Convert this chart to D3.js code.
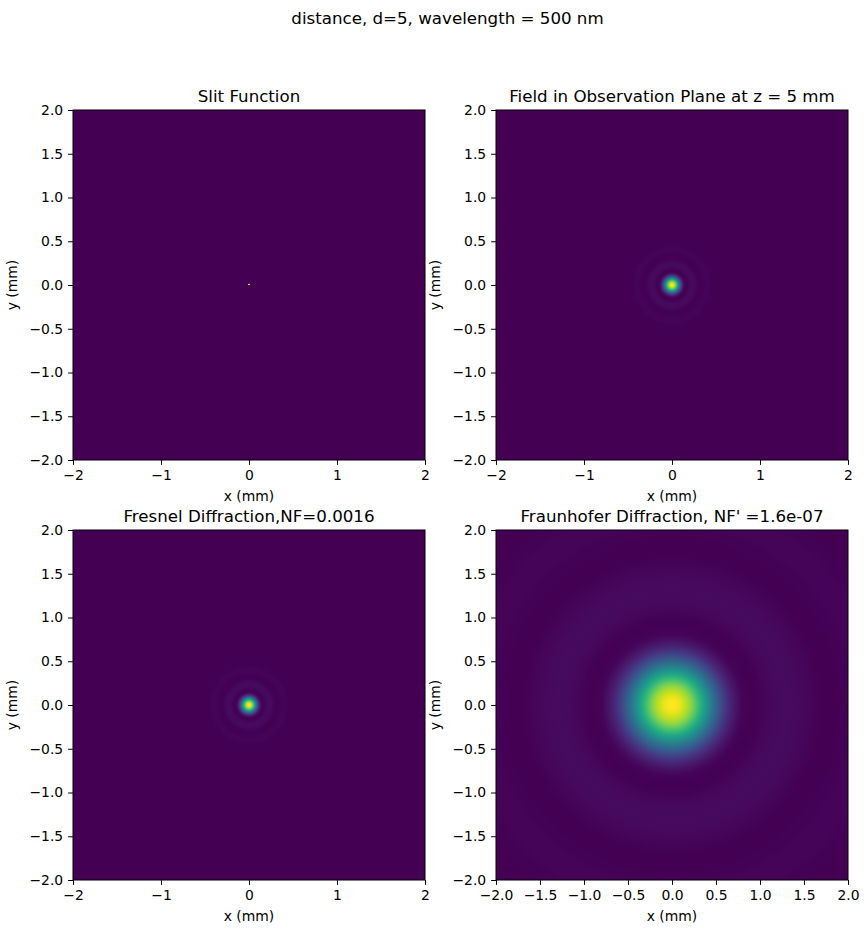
<!DOCTYPE html>
<html>
<head>
<meta charset="utf-8">
<script src="https://cdn.jsdelivr.net/npm/d3@7"></script>
<style>
  body { margin: 0; background: #fff; }
  text { font-family: "DejaVu Sans", sans-serif; fill: #000; }
</style>
</head>
<body>
<div id="fig"></div>
<script>
// chart values
const suptitle = "distance, d=5, wavelength = 500 nm";
const panelTitles = [
  "Slit Function",
  "Field in Observation Plane at z = 5 mm",
  "Fresnel Diffraction,NF=0.0016",
  "Fraunhofer Diffraction, NF' =1.6e-07"
];
const intTicks = [-2, -1, 0, 1, 2];
const halfTicks = [-2, -1.5, -1, -0.5, 0, 0.5, 1, 1.5, 2];

// the slit: one tiny bright cell at the origin (mm)
const slitX = [-0.012, 0.012];
const slitY = [0, 0.012];

// radial intensity profile of the near field spot (panels 2 and 3), mm -> normalised
const nearRadius = [0, 0.01, 0.02, 0.03, 0.04, 0.05, 0.06, 0.07, 0.08, 0.09, 0.10, 0.11, 0.12, 0.13, 0.14, 0.15,
  0.16, 0.18, 0.20, 0.22, 0.24, 0.26, 0.28, 0.30, 0.32, 0.34, 0.36, 0.38, 0.40, 0.42, 0.44, 0.46, 0.48];
const nearIntensity = [1, 0.99, 0.95, 0.89, 0.81, 0.72, 0.62, 0.51, 0.41, 0.31, 0.22, 0.15, 0.09, 0.047, 0.019, 0.005,
  0, 0.007, 0.019, 0.027, 0.027, 0.020, 0.010, 0.003, 0, 0.002, 0.006, 0.009, 0.009, 0.008, 0.004, 0.001, 0];

// radial intensity profile of the far field pattern (panel 4)
const farRadius = [0, 0.05, 0.1, 0.15, 0.2, 0.25, 0.3, 0.35, 0.4, 0.45, 0.5, 0.55, 0.6, 0.65, 0.7, 0.75, 0.8, 0.85,
  0.9, 0.95, 1.0, 1.1, 1.2, 1.3, 1.4, 1.5, 1.6, 1.7, 1.8, 1.9, 2.0, 2.1, 2.2, 2.3, 2.4, 2.5, 2.6, 2.7, 2.8, 2.9];
const farIntensity = [1, 0.99, 0.96, 0.91, 0.85, 0.77, 0.68, 0.59, 0.50, 0.41, 0.32, 0.24, 0.17, 0.11, 0.07, 0.036, 0.015, 0.004,
  0, 0.002, 0.006, 0.017, 0.026, 0.029, 0.025, 0.017, 0.008, 0.002, 0, 0.002, 0.005, 0.008, 0.010, 0.009, 0.007, 0.003, 0.001, 0, 0.001, 0.002];

const W = 868, H = 933;
const pw = 352, ph = 350;
const cols = [73, 496], rows = [110, 530];
const tickFont = "13.9px", titleFont = "16.67px";

const svg = d3.select("#fig").append("svg")
  .attr("width", W)
  .attr("height", H);
const defs = svg.append("defs");

const color = d3.scaleSequential(d3.interpolateViridis).domain([0, 1]);

svg.append("text")
  .attr("x", 447.5)
  .attr("y", 24)
  .attr("text-anchor", "middle")
  .style("font-size", titleFont)
  .text(suptitle);

const panels = [
  {col: 0, row: 0, kind: "slit", xt: intTicks, xf: d3.format("d")},
  {col: 1, row: 0, kind: "near", xt: intTicks, xf: d3.format("d")},
  {col: 0, row: 1, kind: "near", xt: intTicks, xf: d3.format("d")},
  {col: 1, row: 1, kind: "far", xt: halfTicks, xf: d3.format(".1f")}
];

panels.forEach(function (p, i) {
  const x0 = cols[p.col], y0 = rows[p.row];
  const g = svg.append("g").attr("transform", `translate(${x0}, ${y0})`);

  const x = d3.scaleLinear().domain([-2, 2]).range([0, pw]);
  const y = d3.scaleLinear().domain([-2, 2]).range([ph, 0]);

  defs.append("clipPath").attr("id", "clip" + i)
    .append("rect").attr("width", pw).attr("height", ph);

  const plot = g.append("g").attr("clip-path", `url(#clip${i})`);
  plot.append("rect")
    .attr("width", pw)
    .attr("height", ph)
    .attr("fill", color(0));

  if (p.kind === "slit") {
    plot.append("rect")
      .attr("x", x(slitX[0]))
      .attr("y", y(slitY[1]))
      .attr("width", x(slitX[1]) - x(slitX[0]))
      .attr("height", y(slitY[0]) - y(slitY[1]))
      .attr("fill", color(1));
  } else {
    const radius = p.kind === "near" ? nearRadius : farRadius;
    const value = p.kind === "near" ? nearIntensity : farIntensity;
    const rMax = d3.max(radius);
    const offset = d3.scaleLinear().domain([0, rMax]).range([0, 100]);
    const grad = defs.append("radialGradient").attr("id", "grad" + i);
    grad.selectAll("stop")
      .data(radius)
      .enter()
      .append("stop")
      .attr("offset", d => offset(d) + "%")
      .attr("stop-color", (d, k) => color(value[k]));
    plot.append("circle")
      .attr("cx", x(0))
      .attr("cy", y(0))
      .attr("r", x(rMax) - x(0))
      .attr("fill", `url(#grad${i})`);
  }

  // axes
  const xAxis = g.append("g")
    .attr("transform", `translate(0, ${ph})`)
    .call(d3.axisBottom(x).tickValues(p.xt).tickFormat(p.xf).tickSize(4.9).tickPadding(4.9).tickSizeOuter(0));
  const yAxis = g.append("g")
    .call(d3.axisLeft(y).tickValues(halfTicks).tickFormat(d3.format(".1f")).tickSize(4.9).tickPadding(4.9).tickSizeOuter(0));
  [xAxis, yAxis].forEach(function (a) {
    a.select(".domain").remove();
    a.selectAll("text").style("font-size", tickFont).attr("font-family", "DejaVu Sans").attr("fill", "#000");
    a.selectAll("line").attr("stroke", "#000");
  });

  // frame
  g.append("rect")
    .attr("width", pw)
    .attr("height", ph)
    .attr("fill", "none")
    .attr("stroke", "#000")
    .attr("stroke-width", 1);

  g.append("text")
    .attr("x", pw / 2)
    .attr("y", -8)
    .attr("text-anchor", "middle")
    .style("font-size", titleFont)
    .text(panelTitles[i]);

  g.append("text")
    .attr("x", pw / 2)
    .attr("y", ph + 41)
    .attr("text-anchor", "middle")
    .style("font-size", tickFont)
    .text("x (mm)");

  // y label sits just left of the tick labels
  g.append("text")
    .attr("transform", `translate(${p.col === 0 ? -56 : -56}, ${ph / 2}) rotate(-90)`)
    .attr("text-anchor", "middle")
    .style("font-size", tickFont)
    .text("y (mm)");
});
</script>
</body>
</html>
